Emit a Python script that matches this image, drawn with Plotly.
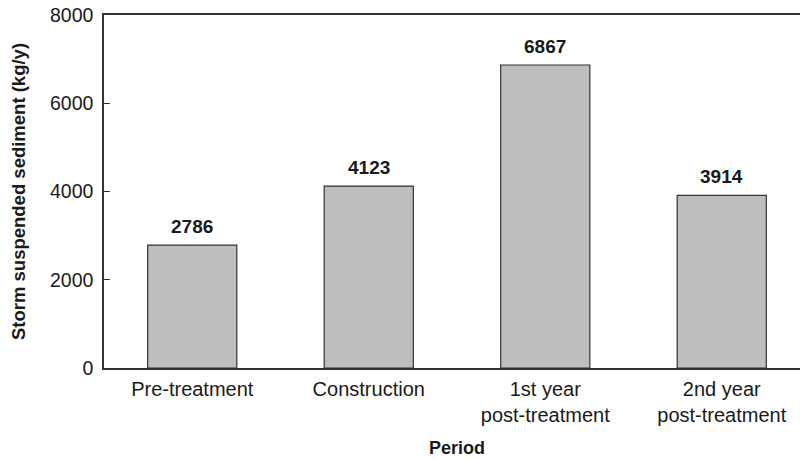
import plotly.graph_objects as go

categories = ["Pre-treatment", "Construction", "1st year<br>post-treatment", "2nd year<br>post-treatment"]
values = [2786, 4123, 6867, 3914]
value_labels = ["2786", "4123", "6867", "3914"]
y_ticks = [0, 2000, 4000, 6000, 8000]

FONT = "Liberation Sans, Arial, sans-serif"

W, H = 800, 460
L, T = 104, 15
B = H - 368
PW = 706  # full plot width (extends past the window)
PH = H - T - B

fig = go.Figure()
fig.add_trace(go.Bar(
    x=list(range(len(categories))),
    y=values,
    width=0.505,
    marker=dict(color="#bebebe", line=dict(color="#333333", width=1.2)),
    hoverinfo="skip",
))

for i, (v, t) in enumerate(zip(values, value_labels)):
    fig.add_annotation(x=i, y=v, text="<b>%s</b>" % t, showarrow=False,
                       yanchor="bottom", yshift=6,
                       font=dict(family=FONT, size=19, color="#1a1a1a"))

fig.add_annotation(text="<b>Period</b>", xref="paper", yref="paper",
                   x=(457 - L) / (W - L), y=-(448 - 368) / PH,
                   xanchor="center", yanchor="middle", showarrow=False,
                   font=dict(family=FONT, size=18, color="#1a1a1a"))

fig.update_layout(
    width=W, height=H,
    margin=dict(l=L, r=0, t=T, b=B, pad=0),
    paper_bgcolor="white", plot_bgcolor="white",
    showlegend=False,
    font=dict(family=FONT, size=20, color="#1a1a1a"),
)
fig.update_xaxes(
    tickmode="array", tickvals=list(range(len(categories))), ticktext=categories,
    range=[-0.5, -0.5 + 4 * (W - L) / PW], showline=True, linecolor="#333333", linewidth=1.5,
    mirror=True, ticks="", showgrid=False, zeroline=False, ticklabelstandoff=2,
    tickfont=dict(family=FONT, size=20, color="#1a1a1a"),
)
fig.update_yaxes(
    range=[0, 8000], tickvals=y_ticks, ticks="inside", ticklen=6,
    tickcolor="#333333", showline=True, linecolor="#333333", linewidth=1.5,
    showgrid=False, zeroline=False, ticklabeloverflow="allow", ticklabelstandoff=5,
    tickfont=dict(family=FONT, size=19.5, color="#1a1a1a"),
    title=dict(text="<b>Storm suspended sediment (kg/y)</b>",
               font=dict(family=FONT, size=18.5, color="#1a1a1a"), standoff=19),
)

fig.write_html("out.html", config={"displayModeBar": False},
               post_script="document.body.style.margin='0px';document.body.style.padding='0px';")
